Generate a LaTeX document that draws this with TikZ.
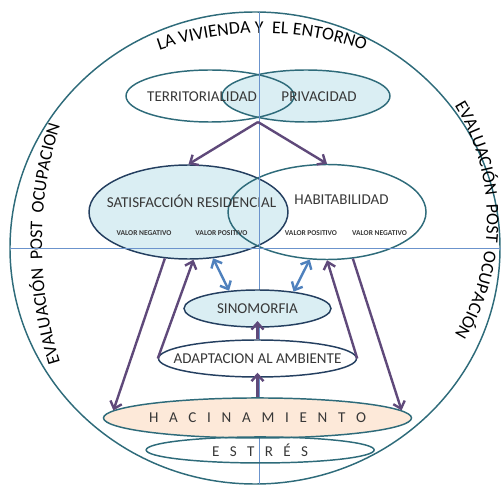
\documentclass[tikz,border=0pt]{standalone}
\usepackage{fontspec}
\setmainfont{Carlito}
\usetikzlibrary{positioning,shapes.geometric,arrows.meta,decorations.text}

\definecolor{tealline}{HTML}{2E6B7A}
\definecolor{navyline}{HTML}{243F60}
\definecolor{paleblue}{HTML}{DAEEF3}
\definecolor{palepeach}{HTML}{FDE9D9}
\definecolor{axisblue}{HTML}{6B93CC}
\definecolor{arrpurple}{HTML}{5F497A}
\definecolor{arrblue}{HTML}{4F81BD}
\definecolor{txtgray}{HTML}{383838}

\newcommand{\midtext}[1]{\makebox[0pt]{#1}}

\begin{document}
\begin{tikzpicture}[x=0.75pt, y=0.75pt,
    oval/.style = {draw=tealline, ellipse, line width=1.1pt, inner sep=0pt, text=txtgray, font=\fontsize{11.3}{13}\selectfont},
    lbl/.style = {text=txtgray, font=\fontsize{11.3}{13}\selectfont, inner sep=0pt},
    tiny/.style = {text=txtgray, font=\fontsize{5.6}{6}\selectfont\bfseries, inner sep=0pt},
    flow/.style = {->, draw=arrpurple, line width=1.8pt},
    link/.style = {<->, draw=arrblue, line width=1.8pt},
    arc text/.style = {decorate, decoration={text along path, text align=center, text={|\fontsize{13.5}{15}\selectfont|#1}}},
    >={Straight Barb[length=5pt, width=9pt]}]
      \useasboundingbox (0,0) rectangle (501,-485);
      \draw[tealline, line width=1.1pt] (255,-248) ellipse [x radius=245, y radius=236];
      \path[arc text={LA VIVIENDA Y{\ } EL ENTORNO}] (262,-345) ++(115:312) arc[start angle=115, end angle=65, radius=312];
      \path[arc text={EVALUACIÓN{\ } POST{\ } OCUPACION}] (442,-244) ++(200:400) arc[start angle=200, end angle=160, radius=400];
      \path[arc text={EVALUACIÓN{\ } POST{\ } OCUPACIÓN}] (267,-220) ++(35:220) arc[start angle=35, end angle=-35, radius=220];

      \node[oval, fill=paleblue, minimum width=126pt, minimum height=39pt] (priv) at (306,-96) {};
      \node[oval, minimum width=126pt, minimum height=39pt, node distance=72pt] (terr) [left of=priv] {};
      \node[oval, draw=navyline, fill=paleblue, minimum width=149.25pt, minimum height=70.5pt] (satis) at (188.5,-212) {};
      \node[oval, minimum width=148.5pt, minimum height=71.25pt, node distance=103.9pt] (habit) [right of=satis] {};
      \node[lbl] (terrtxt) at (202,-97) {TERRITORIALIDAD};
      \node[lbl] (privtxt) at (319,-97) {PRIVACIDAD};
      \node[lbl] (satistxt) at (191.5,-201) {SATISFACCIÓN RESIDENCIAL};
      \node[lbl] (habittxt) at (341.5,-200) {HABITABILIDAD};
      \node[tiny] (satisneg) at (144,-233) {VALOR NEGATIVO};
      \node[tiny] (satispos) at (221.5,-233) {VALOR POSITIVO};
      \node[tiny] (habitpos) at (311,-233) {VALOR POSITIVO};
      \node[tiny] (habitneg) at (379.5,-233) {VALOR NEGATIVO};

      \draw[axisblue, line width=0.75pt] (259,-12) -- (259,-484);
      \draw[axisblue, line width=0.75pt] (10,-249) -- (501,-249);

      \node[oval, draw=navyline, fill=paleblue, minimum width=110.25pt, minimum height=27.75pt] (sino) at (257.5,-308.5) {\midtext{SINOMORFIA}};
      \node[oval, draw=navyline, fill=white, minimum width=148.5pt, minimum height=27.75pt, node distance=37.5pt] (adapt) [below of=sino] {\midtext{ADAPTACION AL AMBIENTE}};
      \node[oval, fill=palepeach, minimum width=231pt, minimum height=30pt, node distance=44.6pt] (hacin) [below of=adapt] {\midtext{\makebox[162.75pt][s]{H A C I N A M I E N T O}}};
      \node[oval, minimum width=171pt, minimum height=19.5pt, node distance=24pt, xshift=2pt] (estres) [below of=hacin] {\midtext{\makebox[72pt][s]{E S T R É S}}};

      \coordinate (fork) at (258,-122);
      \draw[flow] (fork) -- (satis.north);
      \draw[flow] (fork) -- (habit.north);
      \draw[flow] (satis.243) -- (hacin.177);
      \draw[flow] (adapt.west) -- (satis.276);
      \draw[flow] (adapt.east) -- (habit.south);
      \draw[flow] (habit.299) -- (hacin.3);
      \draw[flow] (hacin.north) -- ([yshift=3.75pt]adapt.south);
      \draw[flow] (adapt.north) -- ([yshift=5pt]sino.south);
      \draw[link] (satis.298) -- (sino.148);
      \draw[link] (habit.250) -- (sino.25);
\end{tikzpicture}
\end{document}
